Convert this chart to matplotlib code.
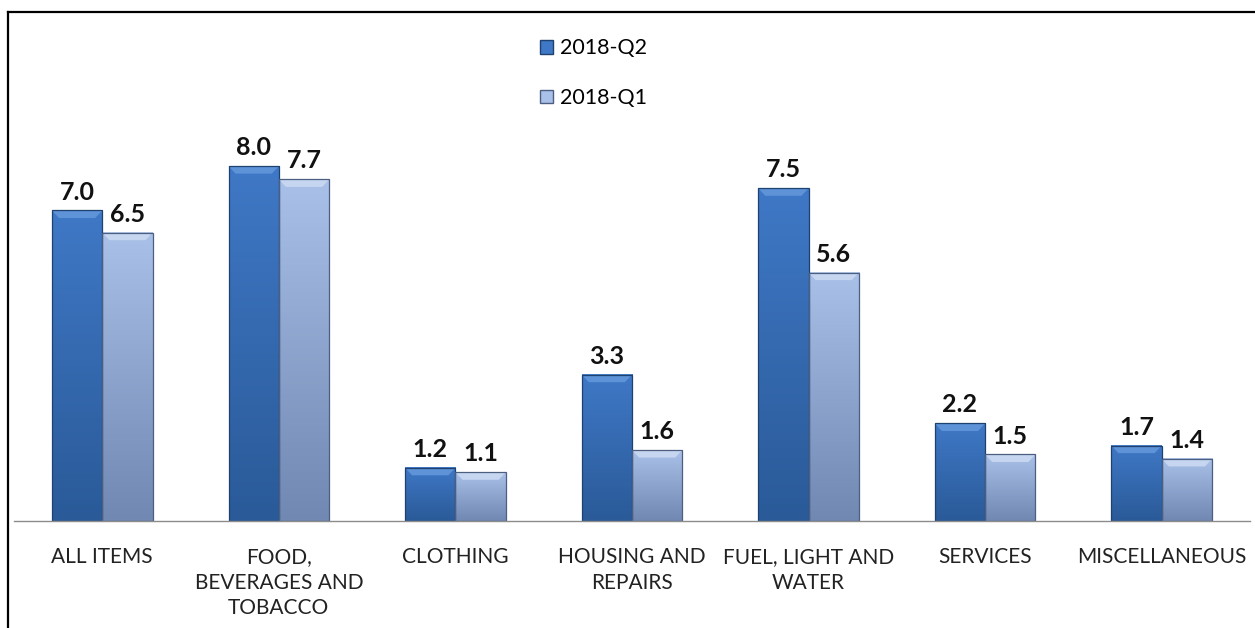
import matplotlib
matplotlib.use("Agg")
import matplotlib.pyplot as plt
import matplotlib.colors as mcolors
from matplotlib.patches import Patch, Polygon
from matplotlib.lines import Line2D
import numpy as np

plt.rcParams['font.family'] = ['Lato', 'DejaVu Sans']

categories = ["ALL ITEMS", "FOOD,\nBEVERAGES AND\nTOBACCO", "CLOTHING",
              "HOUSING AND\nREPAIRS", "FUEL, LIGHT AND\nWATER", "SERVICES",
              "MISCELLANEOUS"]
q2 = [7.0, 8.0, 1.2, 3.3, 7.5, 2.2, 1.7]
q1 = [6.5, 7.7, 1.1, 1.6, 5.6, 1.5, 1.4]
series = [("2018-Q2", q2), ("2018-Q1", q1)]

# (top colour, bottom colour, bevel colour, edge colour)
styles = [("#3F78C6", "#2A5A98", "#5E93D8", "#1E416F"),
          ("#A9C0E8", "#7088B2", "#C6D6F0", "#4D5F80")]

fig = plt.figure(figsize=(12.55, 6.28), dpi=100)
ax = fig.add_axes([14 / 1255, 107 / 628, 1236 / 1255, 488 / 628])

x = np.arange(len(categories))
w = 0.285

def shade_bar(ax, p, top_c, bot_c, bev_c, edge_c):
    x0, y0 = p.get_x(), p.get_y()
    bw, bh = p.get_width(), p.get_height()
    cmap = mcolors.LinearSegmentedColormap.from_list("g", [bot_c, top_c])
    grad = np.linspace(0, 1, 100).reshape(-1, 1)
    ax.imshow(grad, cmap=cmap, origin="lower", aspect="auto",
              extent=(x0, x0 + bw, y0, y0 + bh), zorder=2)
    bv_h = min(0.17, bh * 0.3)
    bv_w = 0.04
    top = y0 + bh
    ax.add_patch(Polygon([(x0, top), (x0 + bw, top), (x0 + bw - bv_w, top - bv_h),
                          (x0 + bv_w, top - bv_h)], closed=True,
                         facecolor=bev_c, edgecolor="none", zorder=3))
    ax.add_patch(Polygon([(x0, y0), (x0 + bw, y0), (x0 + bw, top), (x0, top)],
                         closed=True, facecolor="none", edgecolor=edge_c,
                         linewidth=0.9, zorder=4))

for i, (name, vals) in enumerate(series):
    top_c, bot_c, bev_c, edge_c = styles[i]
    offs = (i - 0.5) * w
    bars = ax.bar(x + offs, vals, w, color=top_c, zorder=1)
    for p, v in zip(bars, vals):
        shade_bar(ax, p, top_c, bot_c, bev_c, edge_c)
        ax.annotate(f"{v:.1f}", (p.get_x() + p.get_width() / 2, v),
                    xytext=(0, 5), textcoords="offset points",
                    ha="center", va="bottom", fontsize=18, fontweight="bold",
                    color="#111111")

ax.set_xlim(-0.5, len(categories) - 0.5)
ax.set_ylim(0, 11)
ax.set_yticks([])
ax.set_xticks(x)
ax.set_xticklabels(categories, fontsize=15, color="#222222", linespacing=1.32)
ax.tick_params(axis="x", length=0, pad=19)
for s in ["top", "left", "right"]:
    ax.spines[s].set_visible(False)
ax.spines["bottom"].set_color("#8C8C8C")
ax.spines["bottom"].set_linewidth(1.0)
ax.spines["bottom"].set_zorder(5)

handles = [Patch(facecolor=styles[i][0], edgecolor=styles[i][3], label=series[i][0])
           for i in range(2)]
fig.legend(handles=handles, loc="upper left",
           bbox_to_anchor=(521 / 1255, 1 - 19 / 628), frameon=False,
           fontsize=15.5, handlelength=0.6, handleheight=0.6,
           handletextpad=0.3, labelspacing=1.38)

# frame lines of the embedded chart box
fig.add_artist(Line2D([8 / 1255, 1], [1 - 12 / 628, 1 - 12 / 628],
                      transform=fig.transFigure, color="black", linewidth=1.6))
fig.add_artist(Line2D([8 / 1255, 8 / 1255], [0, 1 - 12 / 628],
                      transform=fig.transFigure, color="black", linewidth=1.6))

fig.savefig("out.png", dpi=100)
